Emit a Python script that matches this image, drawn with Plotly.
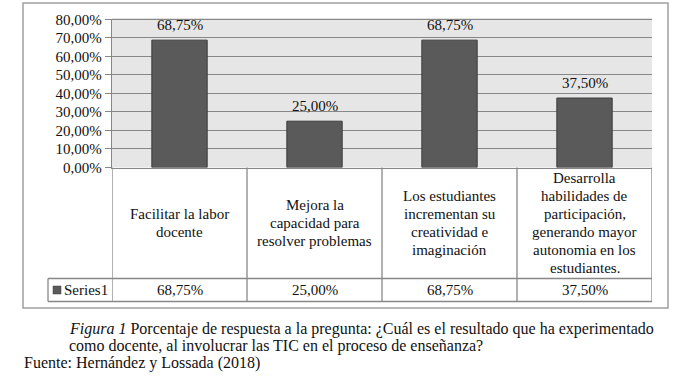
import plotly.graph_objects as go

# ---- data ----
categories = [
    "Facilitar la labor<br>docente",
    "Mejora la<br>capacidad para<br>resolver problemas",
    "Los estudiantes<br>incrementan su<br>creatividad e<br>imaginación",
    "Desarrolla<br>habilidades de<br>participación,<br>generando mayor<br>autonomia en los<br>estudiantes.",
]
values = [0.6875, 0.25, 0.6875, 0.375]
series_name = "Series1"
tick_values = [0.0, 0.1, 0.2, 0.3, 0.4, 0.5, 0.6, 0.7, 0.8]
caption_line1 = "<i>Figura 1</i> Porcentaje de respuesta a la pregunta: ¿Cuál es el resultado que ha experimentado"
caption_line2 = "como docente, al involucrar las TIC en el proceso de enseñanza?"
source_text = "Fuente: Hernández y Lossada (2018)"

W, H = 691, 385
def fx(x):
    return x / W
def fy(y):
    return 1 - y / H

GRID = "#878787"
BAR = "#5a5a5a"
TXT = "#111111"

def serif(s):
    return "<span style=\"font-family:'Liberation Serif'\">" + s + "</span>"

def fmt(v):
    return f"{v*100:.2f}%".replace(".", ",")

keys = list(range(len(categories)))

fig = go.Figure()
fig.add_trace(go.Bar(
    x=keys, y=values,
    marker=dict(color=BAR, line=dict(color="#3c3c3c", width=1)),
    width=0.41, showlegend=False, hoverinfo="skip",
))

plot_top, plot_bot = 19.3, 167.5
cell_bot, row_bot = 278.5, 301.5
x_left, x_right = 112, 652
F15 = dict(size=15, color=TXT)
F16 = dict(size=16, color=TXT)

annotations = []
for k, v in zip(keys, values):
    annotations.append(dict(x=k, y=v, xref="x", yref="y", text=serif(fmt(v)), showarrow=False,
                            yanchor="bottom", yshift=5, font=F15))
cell_mid = (plot_bot + cell_bot) / 2
for k, cat in zip(keys, categories):
    lines = cat.split("<br>")
    n = len(lines)
    for j, ln in enumerate(lines):
        yy = cell_mid + (j - (n - 1) / 2) * 18
        annotations.append(dict(x=k, y=fy(yy), xref="x", yref="paper", text=serif(ln), showarrow=False,
                                yanchor="middle", font=F15))
row_mid = (cell_bot + row_bot) / 2
for k, v in zip(keys, values):
    annotations.append(dict(x=k, y=fy(row_mid), xref="x", yref="paper", text=serif(fmt(v)), showarrow=False,
                            yanchor="middle", font=F15))
annotations.append(dict(x=fx(62), y=fy(row_mid), xref="paper", yref="paper", text=serif(series_name),
                        showarrow=False, xanchor="left", yanchor="middle", font=F15))
annotations.append(dict(x=fx(67), y=fy(329), xref="paper", yref="paper", text=serif(caption_line1),
                        showarrow=False, xanchor="left", yanchor="middle", font=F16))
annotations.append(dict(x=fx(67), y=fy(346), xref="paper", yref="paper", text=serif(caption_line2),
                        showarrow=False, xanchor="left", yanchor="middle", font=F16))
annotations.append(dict(x=fx(22), y=fy(363), xref="paper", yref="paper", text=serif(source_text),
                        showarrow=False, xanchor="left", yanchor="middle", font=F16))

shapes = []
shapes.append(dict(type="rect", xref="paper", yref="paper", x0=fx(23), x1=fx(668), y0=fy(308), y1=fy(3),
                   line=dict(color="#a0a0a0", width=1.5), layer="below"))
for b in [k - 0.5 for k in keys] + [keys[-1] + 0.5]:
    shapes.append(dict(type="line", xref="x", yref="paper", x0=b, x1=b, y0=fy(row_bot), y1=fy(plot_bot),
                       line=dict(color=GRID, width=1.3)))
for yy in (cell_bot, row_bot):
    shapes.append(dict(type="line", xref="paper", yref="paper", x0=fx(48), x1=fx(x_right), y0=fy(yy), y1=fy(yy),
                       line=dict(color=GRID, width=1.3)))
shapes.append(dict(type="line", xref="paper", yref="paper", x0=fx(48), x1=fx(48), y0=fy(row_bot), y1=fy(cell_bot),
                   line=dict(color=GRID, width=1.3)))
shapes.append(dict(type="rect", xref="paper", yref="paper", x0=fx(53), x1=fx(61), y0=fy(row_mid + 4), y1=fy(row_mid - 4),
                   fillcolor=BAR, line=dict(color="#3c3c3c", width=0.5)))
shapes.append(dict(type="line", xref="paper", yref="paper", x0=fx(x_left), x1=fx(x_right), y0=fy(plot_top), y1=fy(plot_top),
                   line=dict(color=GRID, width=1.3)))

fig.update_layout(
    width=W, height=H,
    margin=dict(l=0, r=0, t=0, b=0, autoexpand=False),
    paper_bgcolor="white",
    plot_bgcolor="#e6e6e6",
    font=dict(color=TXT),
    xaxis=dict(domain=[fx(x_left), fx(x_right)], range=[-0.5, len(keys) - 0.5], showticklabels=False,
               automargin=False,
               showgrid=False, zeroline=False, showline=True, linecolor=GRID, linewidth=1.3, fixedrange=True),
    yaxis=dict(domain=[fy(plot_bot), fy(plot_top)], range=[0, 0.8],
               tickmode="array", tickvals=tick_values, ticktext=[serif(fmt(t)) for t in tick_values],
               automargin=False,
               showgrid=True, gridcolor=GRID, gridwidth=1.3, zeroline=False,
               showline=True, linecolor=GRID, linewidth=1.3, ticks="outside", ticklen=6, tickcolor=GRID,
               tickfont=F15, fixedrange=True),
    annotations=annotations,
    shapes=shapes,
    showlegend=False,
)

fig.write_html("out.html", config={"displayModeBar": False},
               post_script="document.body.style.margin='0';document.body.style.padding='0';")
